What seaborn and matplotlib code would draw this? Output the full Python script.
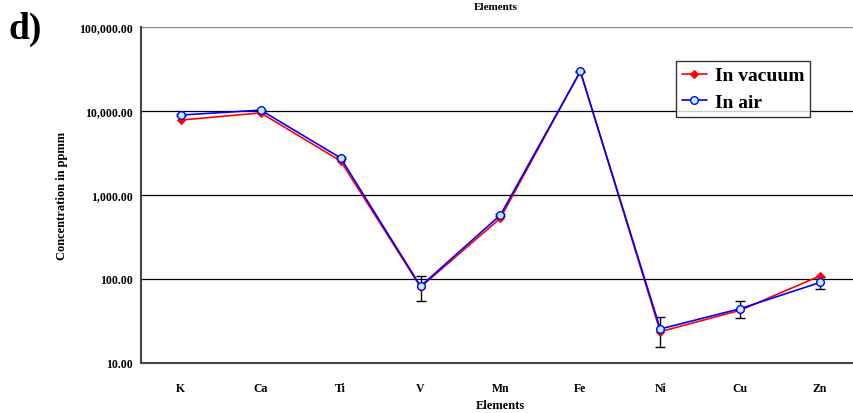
import numpy as np
import pandas as pd
import seaborn as sns
import matplotlib
matplotlib.use("Agg")
import matplotlib.pyplot as plt
from matplotlib.ticker import FuncFormatter, FixedLocator, NullLocator

elements = ["K", "Ca", "Ti", "V", "Mn", "Fe", "Ni", "Cu", "Zn"]
in_vacuum = [7800, 9500, 2540, 80, 530, 29800, 23.6, 42.4, 109]
in_air = [8950, 10250, 2760, 82, 578, 29600, 25.4, 44.3, 91]
air_err = [150, 150, 60, 27, 12, 500, 10, 10, 16]

df = pd.DataFrame({"Elements": elements * 2,
                   "value": in_vacuum + in_air,
                   "series": ["In vacuum"] * 9 + ["In air"] * 9})

sns.set_style("white", {"text.color": "black", "axes.labelcolor": "black",
                        "xtick.color": "black", "ytick.color": "black"})
plt.rcParams["font.family"] = ["Liberation Serif", "DejaVu Serif"]
plt.rcParams["font.weight"] = "bold"

fig = plt.figure(figsize=(8.54, 4.14), dpi=100)
ax = fig.add_axes([0.165, 0.1208, 0.842, 0.8115])

# error bars (drawn first so markers cover them)
ax.errorbar(np.arange(len(elements)), in_air, yerr=air_err, fmt="none",
            ecolor="black", elinewidth=1, capsize=3.5, capthick=1, zorder=2)

sns.lineplot(data=df[df.series == "In vacuum"], x="Elements", y="value", ax=ax,
             color="red", marker="D", markersize=4.5, markeredgecolor="red",
             linewidth=1.2, label="In vacuum", sort=False, zorder=3)
sns.lineplot(data=df[df.series == "In air"], x="Elements", y="value", ax=ax,
             color="blue", marker="o", markersize=5.5, markeredgecolor="blue",
             markerfacecolor="#b8f4ff", markeredgewidth=1, linewidth=1.2,
             label="In air", sort=False, zorder=4)

ax.set_yscale("log")
ax.set_ylim(10, 100000)
ax.set_xlim(-0.5, 8.5)
ax.yaxis.set_major_locator(FixedLocator([10, 100, 1000, 10000, 100000]))
ax.yaxis.set_minor_locator(NullLocator())
ax.yaxis.set_major_formatter(FuncFormatter(lambda v, p: f"{v:,.2f}"))
ax.set_xticks(range(len(elements)))
ax.set_xticklabels(elements)
ax.xaxis.set_minor_locator(FixedLocator(np.arange(0.5, 8.5, 1)))
ax.tick_params(axis="x", which="major", length=0, pad=14, labelsize=8.5, labelcolor="black")
ax.tick_params(axis="x", which="minor", length=4, direction="in", width=1, color="#333333")
ax.tick_params(axis="y", which="major", length=0, pad=6, labelsize=8.5, labelcolor="black")
for t in ax.get_xticklabels() + ax.get_yticklabels():
    t.set_fontweight("bold")

for y in [10000, 1000, 100]:
    ax.axhline(y, color="black", linewidth=0.9, zorder=1)
ax.axhline(100000, color="#888888", linewidth=1.0, zorder=1)

for s in ["top", "right"]:
    ax.spines[s].set_visible(False)
for s in ["left", "bottom"]:
    ax.spines[s].set_color("#444444")
    ax.spines[s].set_linewidth(1.5)

ax.set_xlabel("Elements", fontsize=9, fontweight="bold", labelpad=3, color="black")
ax.set_ylabel("Concentration in ppmm", fontsize=9, fontweight="bold", labelpad=8, color="black")
fig.text(0.58, 0.983, "Elements", ha="center", va="center", fontsize=8,
         fontweight="bold", color="black")
fig.text(0.01, 0.928, "d)", ha="left", va="center", fontsize=27,
         fontweight="bold", color="black")

leg = ax.legend(loc="upper left", bbox_to_anchor=(0.744, 0.899), frameon=True,
                fancybox=False, edgecolor="black", handlelength=1.3,
                prop={"family": "Liberation Serif", "weight": "bold", "size": 14},
                borderpad=0.3, labelspacing=0.45, handletextpad=0.4, borderaxespad=0)
leg.get_frame().set_linewidth(1.0)
for t in leg.get_texts():
    t.set_color("black")

fig.savefig("out.png", dpi=100)
